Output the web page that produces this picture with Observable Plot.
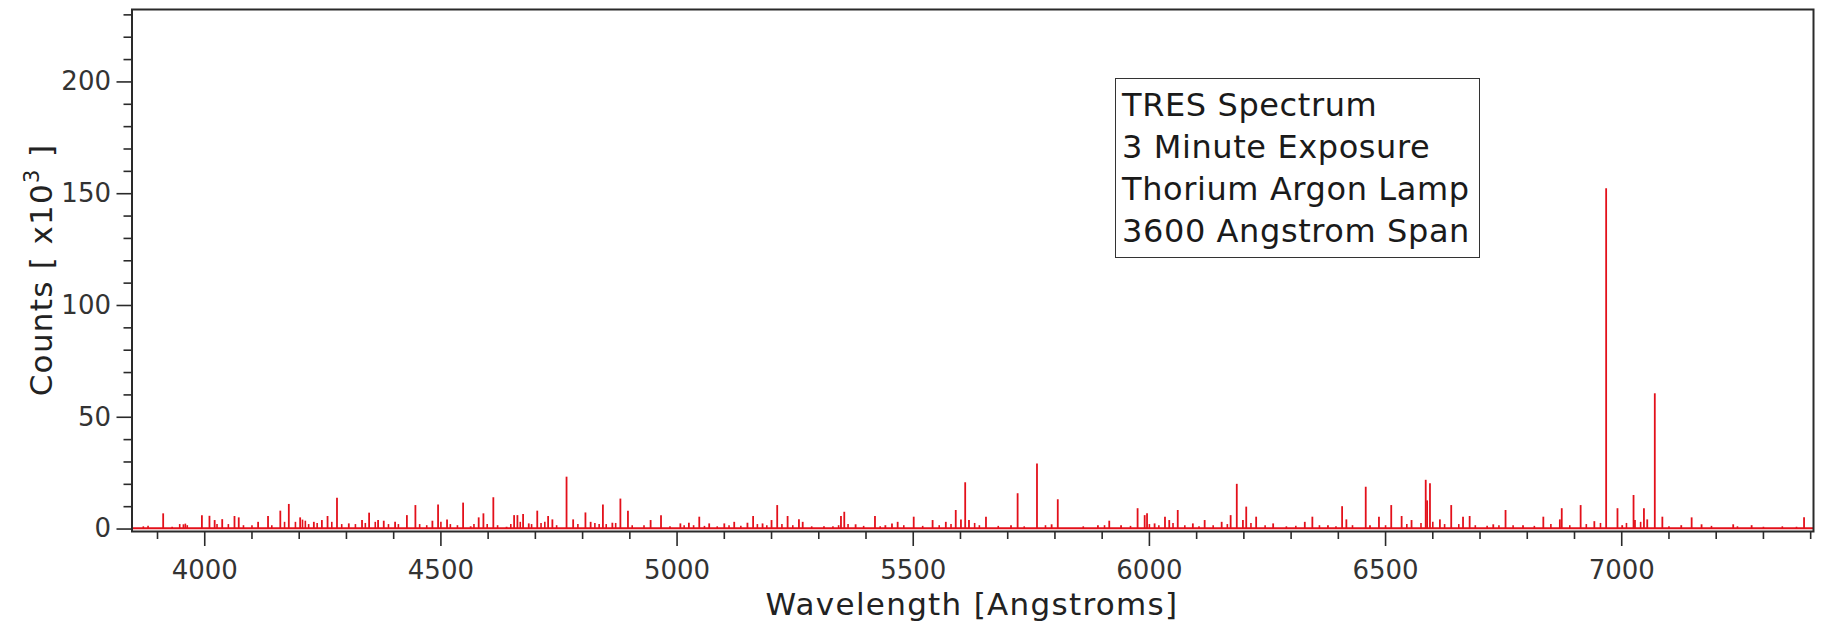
<!DOCTYPE html>
<html>
<head>
<meta charset="utf-8">
<script src="https://cdn.jsdelivr.net/npm/d3@7"></script>
<script src="https://cdn.jsdelivr.net/npm/@observablehq/plot@0.6"></script>
<style>
  html, body { margin: 0; padding: 0; background: #fff; }
  #wrap { position: relative; width: 1822px; height: 627px; overflow: hidden; }
  #box {
    position: absolute; left: 1115px; top: 78px; width: 365px; height: 180px;
    box-sizing: border-box; border: 1.6px solid #333; background: #fff;
    padding: 5px 0 0 6px;
    font-family: "DejaVu Sans", sans-serif; font-size: 32px; line-height: 42px;
    letter-spacing: 0.6px; color: #1a1a1a; white-space: nowrap;
  }
</style>
</head>
<body>
<div id="wrap"></div>
<script>
// Strong emission lines: wavelength (Angstroms) and peak counts (x10^3)
const lineWavelengths = [
  3912, 3955, 3994, 4010, 4021, 4037, 4063, 4072, 4113, 4134, 4160, 4178, 4202, 4231, 4248, 4260,
  4280, 4305, 4333, 4348, 4367, 4379, 4403, 4428,
  4446, 4482, 4494, 4513, 4547, 4563, 4580, 4590, 4611, 4639, 4655, 4662, 4674, 4686, 4704, 4727,
  4736, 4766, 4780, 4806, 4817, 4843, 4863, 4880, 4896, 4944, 4966, 5007, 5025,
  5047, 5068, 5100, 5121, 5149, 5161, 5181, 5200, 5212, 5234, 5258, 5266, 5311, 5347, 5354, 5378,
  5419, 5441, 5455, 5467, 5501, 5541, 5569, 5590, 5601, 5610, 5618,
  5654, 5707, 5721, 5762, 5793, 5806, 5891, 5915, 5940, 5975, 5990, 5995, 6011, 6033, 6042, 6060,
  6092, 6117, 6153, 6172, 6185, 6198, 6205, 6226,
  6262, 6329, 6345, 6378, 6408, 6417, 6458, 6467, 6486, 6512, 6534, 6555, 6585, 6588, 6594, 6615,
  6639, 6664, 6678, 6728, 6754, 6791,
  6834, 6869, 6873, 6913, 6942, 6967, 6991, 7001, 7025, 7028, 7047, 7054, 7070, 7086, 7126, 7148,
  7169, 7236, 7275, 7386
];
const lineCounts = [
  6.8, 1.9, 6.0, 5.7, 3.8, 4.2, 5.6, 5.0, 3.0, 5.6, 8.0, 11.0, 5.0, 3.0, 3.8, 5.6,
  13.8, 2.3, 3.8, 7.1, 3.8, 3.5, 3.0, 6.0,
  10.5, 3.5, 10.8, 4.1, 11.6, 1.0, 5.0, 6.8, 14.0, 0.8, 6.0, 6.0, 6.5, 2.3, 8.0, 5.6,
  4.1, 23.2, 4.1, 7.2, 3.0, 10.8, 2.6, 13.4, 8.0, 3.8, 6.0, 2.3, 2.6,
  5.3, 2.3, 2.3, 3.0, 2.6, 5.6, 2.3, 3.8, 10.5, 5.6, 4.2, 3.0, 1.0, 5.6, 7.5, 1.9,
  5.6, 1.5, 2.3, 3.0, 5.3, 3.8, 3.0, 8.3, 4.1, 20.7, 3.8,
  5.3, 1.5, 15.8, 29.1, 1.9, 13.1, 1.5, 3.5, 1.5, 9.1, 6.0, 6.8, 2.3, 5.3, 3.8, 8.3,
  2.3, 3.8, 3.0, 6.0, 20.0, 3.8, 9.8, 5.3,
  2.3, 3.0, 5.3, 1.5, 10.0, 4.1, 18.7, 1.5, 5.3, 10.5, 5.6, 3.8, 21.8, 12.6, 20.3, 4.1,
  10.5, 5.3, 5.6, 1.9, 8.3, 1.5,
  5.3, 4.1, 9.1, 10.5, 3.3, 152.2, 9.1, 1.5, 15.0, 3.8, 9.1, 4.1, 60.5, 5.3, 1.5, 5.0,
  1.9, 1.9, 1.5, 5.0
];
// Weak lines cluttering the continuum
const weakWavelengths = [
  3870, 3880, 3931, 3947, 3959, 3963, 4026, 4050, 4082, 4100, 4142, 4169, 4192, 4207, 4213, 4220,
  4238, 4269, 4290, 4319, 4340, 4361, 4389, 4410,
  4455, 4470, 4500, 4520, 4535, 4570, 4598, 4620, 4648, 4668, 4692, 4712, 4720, 4745, 4790, 4826,
  4835, 4850, 4870, 4905, 4930, 4985, 5015,
  5035, 5058, 5085, 5110, 5135, 5170, 5190, 5222, 5245, 5285, 5330, 5342, 5362, 5395, 5430, 5480,
  5520, 5555, 5580, 5630, 5640, 5680, 5735, 5780, 5860, 5905, 5960, 6000, 6020, 6050, 6075, 6105,
  6135, 6165, 6215, 6245, 6290, 6310, 6360, 6395, 6430, 6500, 6545, 6575, 6600, 6625, 6655, 6690,
  6715, 6740, 6770, 6815, 6850, 6890, 6925, 6955, 7010, 7040, 7100, 7190, 7245, 7300, 7340, 7370
];
const weakCounts = [
  1.0, 1.2, 0.8, 2.0, 2.2, 1.5, 2.0, 2.0, 1.5, 1.5, 1.5, 3.0, 3.0, 4.0, 3.5, 2.0,
  2.5, 3.0, 2.0, 2.0, 2.5, 3.0, 2.0, 2.0,
  2.0, 1.5, 3.0, 2.0, 1.5, 2.0, 2.0, 1.5, 2.0, 3.0, 2.0, 2.5, 3.0, 1.5, 2.0, 2.5,
  2.0, 2.0, 2.5, 1.5, 1.5, 1.0, 1.5,
  1.5, 1.2, 1.0, 1.5, 1.2, 2.0, 1.5, 2.0, 1.5, 1.0, 1.0, 1.5, 2.0, 1.2, 1.0, 1.5,
  1.2, 1.5, 2.0, 2.5, 1.5, 1.2, 1.0, 1.5, 1.0, 1.5, 1.2, 2.0, 1.5, 2.5, 1.5, 1.0,
  1.5, 2.0, 2.5, 1.5, 1.0, 1.2, 1.5, 1.0, 1.5, 1.5, 2.0, 2.5, 3.0, 2.0, 2.0, 1.5,
  1.2, 1.5, 1.5, 1.2, 2.0, 1.5, 2.0, 2.5, 2.5, 3.0, 1.0, 1.2, 1.0, 0.8, 1.0, 0.8
];
const baselineLevel = [0.4];

// Axis ticks and labels
const xMajorTicks = [4000, 4500, 5000, 5500, 6000, 6500, 7000];
const xMinorTicks = d3.range(3900, 7401, 100).filter(v => !xMajorTicks.includes(v));
const yMajorTicks = [0, 50, 100, 150, 200];
const yMinorTicks = d3.range(10, 231, 10).filter(v => !yMajorTicks.includes(v));
const xLabel = "Wavelength [Angstroms]";
const yLabelMain = "Counts [ x10";
const yLabelSup = "3";
const yLabelEnd = " ]";
const infoLines = ["TRES Spectrum", "3 Minute Exposure", "Thorium Argon Lamp", "3600 Angstrom Span"];

const lines = lineWavelengths.map((w, i) => ({w, c: lineCounts[i]}));
const weak = weakWavelengths.map((w, i) => ({w, c: weakCounts[i]}));
const red = "#e3101a";
const ink = "#2a2a2a";

const chart = Plot.plot({
  width: 1822,
  height: 627,
  marginLeft: 131.5,
  marginRight: 9,
  marginTop: 9,
  marginBottom: 96,
  style: {fontFamily: "DejaVu Sans, sans-serif", fontSize: "26px", color: "#333", background: "#fff"},
  x: {domain: [3846, 7406]},
  y: {domain: [-1.1, 232.4]},
  marks: [
    Plot.ruleY(baselineLevel, {stroke: red, strokeWidth: 2}),
    Plot.ruleX(weak, {x: "w", y1: 0, y2: "c", stroke: red, strokeWidth: 1.6}),
    Plot.ruleX(lines, {x: "w", y1: 0, y2: "c", stroke: red, strokeWidth: 1.8}),
    Plot.axisX({ticks: xMinorTicks, tickSize: 8, fill: "none", label: null, stroke: ink, strokeWidth: 1.6}),
    Plot.axisX({ticks: xMajorTicks, tickSize: 15, tickPadding: 14, tickFormat: d => String(d), label: null, stroke: ink, strokeWidth: 1.6, fill: "#333"}),
    Plot.axisY({ticks: yMinorTicks, tickSize: 8, fill: "none", label: null, stroke: ink, strokeWidth: 1.6}),
    Plot.axisY({ticks: yMajorTicks, tickSize: 15, tickPadding: 6, tickFormat: d => String(d), label: null, stroke: ink, strokeWidth: 1.6, fill: "#333"}),
    Plot.frame({stroke: ink, strokeWidth: 2})
  ]
});

const svg = d3.select(chart);
svg.append("text")
  .attr("x", 972).attr("y", 615)
  .attr("text-anchor", "middle")
  .attr("font-family", "DejaVu Sans, sans-serif")
  .attr("font-size", 31)
  .attr("letter-spacing", "1.3px")
  .attr("fill", "#222")
  .text(xLabel);

const yl = svg.append("text")
  .attr("transform", "translate(52,270) rotate(-90)")
  .attr("text-anchor", "middle")
  .attr("font-family", "DejaVu Sans, sans-serif")
  .attr("font-size", 31)
  .attr("letter-spacing", "1.3px")
  .attr("fill", "#222");
yl.append("tspan").text(yLabelMain);
yl.append("tspan").attr("dy", -13).attr("font-size", 21).text(yLabelSup);
yl.append("tspan").attr("dy", 13).text(yLabelEnd);

const wrap = document.getElementById("wrap");
wrap.appendChild(chart);
const box = document.createElement("div");
box.id = "box";
box.innerHTML = infoLines.map(s => `<div>${s}</div>`).join("");
wrap.appendChild(box);
</script>
</body>
</html>
